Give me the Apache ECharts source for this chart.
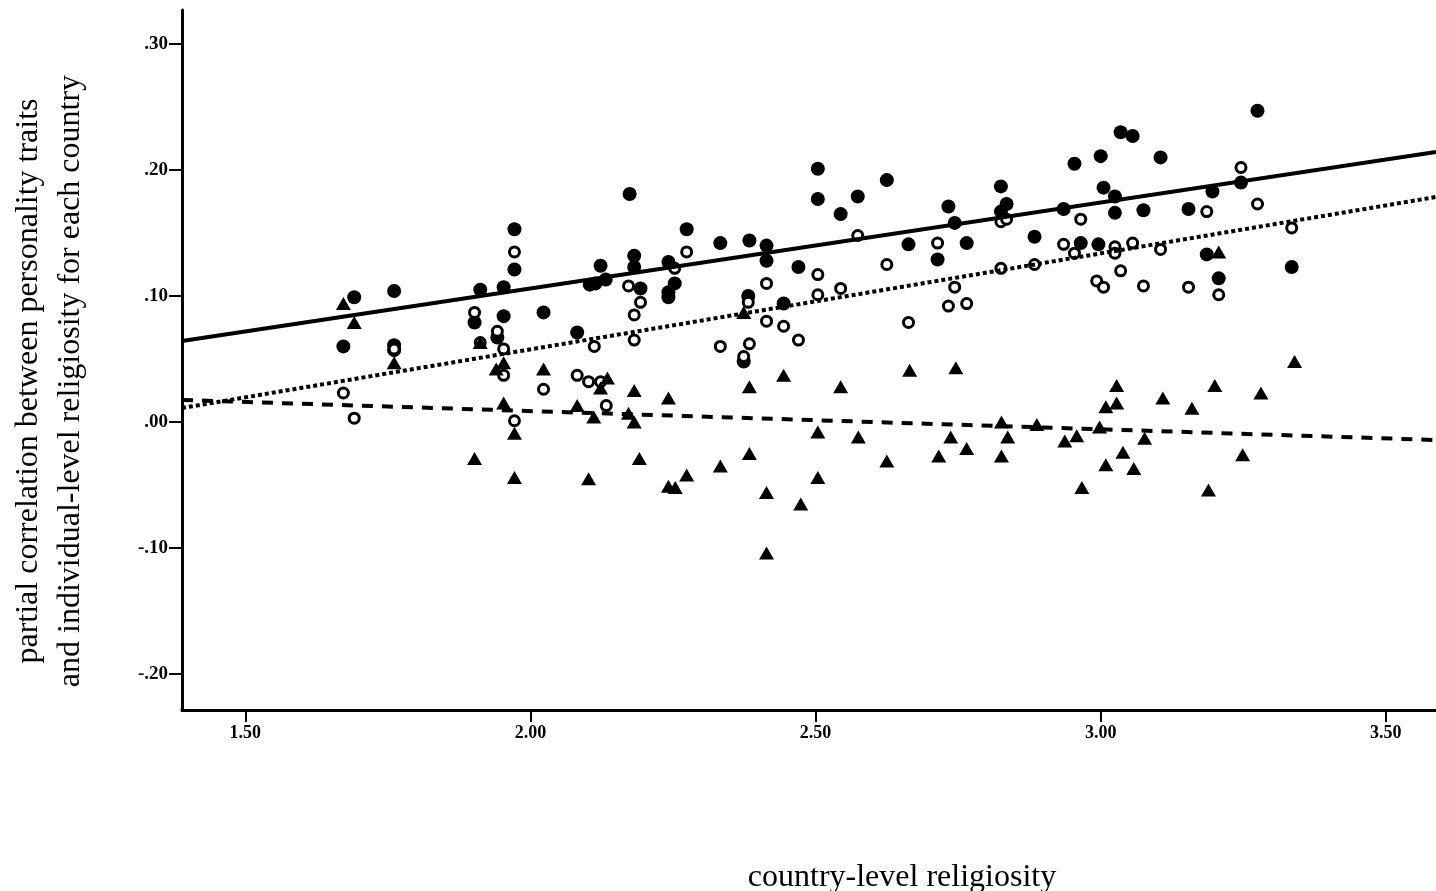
<!DOCTYPE html>
<html>
<head>
<meta charset="utf-8">
<script src="https://cdn.jsdelivr.net/npm/echarts@6/dist/echarts.min.js"></script>
<style>html,body{margin:0;padding:0;background:#fff}#c{width:1436px;height:891px}</style>
</head>
<body>
<div id="c"></div>
<script>
// axis ticks
const xTicks = [1.5, 2.0, 2.5, 3.0, 3.5];
const yTicks = [-0.2, -0.1, 0.0, 0.1, 0.2, 0.3];
const xRange = [1.389, 3.588];
const yRange = [-0.2286, 0.327];

// filled circles
const filledPoints = [
[1.672,0.060],[1.691,0.099],[1.761,0.104],[1.761,0.061],[1.761,0.057],[1.902,0.079],[1.912,0.105],
[1.953,0.107],[1.953,0.084],[1.942,0.067],[1.972,0.153],[1.972,0.121],[2.023,0.087],[2.082,0.071],
[2.104,0.109],[2.114,0.110],[2.132,0.113],[2.123,0.124],[2.174,0.181],[2.182,0.132],[2.182,0.123],
[2.193,0.106],[2.242,0.127],[2.253,0.110],[2.242,0.103],[2.242,0.099],[2.274,0.153],[2.333,0.142],
[2.384,0.144],[2.414,0.140],[2.414,0.128],[2.470,0.123],[2.382,0.100],[2.444,0.094],[2.504,0.201],
[2.504,0.177],[2.544,0.165],[2.574,0.179],[2.625,0.192],[2.663,0.141],[2.714,0.129],[2.733,0.171],
[2.744,0.158],[2.765,0.142],[2.825,0.187],[2.825,0.167],[2.835,0.173],[2.884,0.147],[2.935,0.169],
[2.954,0.205],[3.000,0.211],[3.005,0.186],[3.025,0.179],[3.025,0.166],[3.035,0.230],[3.056,0.227],
[3.075,0.168],[3.105,0.210],[3.154,0.169],[3.196,0.183],[3.246,0.190],[3.275,0.247],[2.965,0.142],
[2.996,0.141],[3.186,0.133],[3.207,0.114],[3.335,0.123],[2.374,0.048]
];

// open circles
const openPoints = [
[1.672,0.023],[1.691,0.003],[1.761,0.058],[1.902,0.087],[1.942,0.072],[1.912,0.063],[1.953,0.058],
[1.953,0.037],[1.972,0.135],[1.972,0.001],[2.023,0.026],[2.082,0.037],[2.102,0.032],[2.123,0.032],
[2.133,0.013],[2.112,0.060],[2.172,0.108],[2.193,0.095],[2.182,0.085],[2.182,0.065],[2.253,0.122],
[2.274,0.135],[2.333,0.060],[2.384,0.062],[2.374,0.052],[2.382,0.095],[2.414,0.110],[2.414,0.080],
[2.444,0.076],[2.470,0.065],[2.504,0.117],[2.504,0.101],[2.544,0.106],[2.574,0.148],[2.625,0.125],
[2.663,0.079],[2.714,0.142],[2.733,0.092],[2.744,0.107],[2.765,0.094],[2.825,0.159],[2.835,0.161],
[2.825,0.122],[2.884,0.125],[2.935,0.141],[2.954,0.134],[2.965,0.161],[2.993,0.112],[3.005,0.107],
[3.025,0.139],[3.025,0.134],[3.035,0.120],[3.056,0.142],[3.075,0.108],[3.105,0.137],[3.154,0.107],
[3.186,0.167],[3.207,0.101],[3.246,0.202],[3.275,0.173],[3.335,0.154]
];

// triangles
const trianglePoints = [
[1.672,0.094],[1.691,0.079],[1.761,0.047],[1.902,-0.029],[1.912,0.063],[1.953,0.047],[1.940,0.042],
[1.953,0.015],[1.972,-0.009],[1.972,-0.044],[2.023,0.042],[2.082,0.013],[2.102,-0.045],[2.111,0.004],
[2.123,0.027],[2.135,0.035],[2.172,0.007],[2.182,0.025],[2.182,0.000],[2.191,-0.029],[2.242,0.019],
[2.242,-0.051],[2.254,-0.052],[2.274,-0.042],[2.333,-0.035],[2.374,0.087],[2.384,0.028],[2.384,-0.025],
[2.414,-0.056],[2.414,-0.104],[2.444,0.037],[2.474,-0.065],[2.504,-0.044],[2.504,-0.008],[2.544,0.028],
[2.575,-0.012],[2.625,-0.031],[2.665,0.041],[2.716,-0.027],[2.737,-0.012],[2.746,0.043],[2.765,-0.021],
[2.826,0.000],[2.837,-0.012],[2.826,-0.027],[2.888,-0.002],[2.937,-0.015],[2.958,-0.011],[2.967,-0.052],
[2.998,-0.004],[3.009,0.012],[3.009,-0.034],[3.028,0.029],[3.028,0.015],[3.039,-0.024],[3.058,-0.037],
[3.077,-0.013],[3.109,0.019],[3.160,0.011],[3.189,-0.054],[3.200,0.029],[3.207,0.135],[3.249,-0.026],
[3.281,0.023],[3.340,0.048]
];

// fit line end points
const solidFit = [[1.389,0.0643],[3.588,0.2143]];
const dottedFit = [[1.389,0.0111],[3.588,0.1786]];
const dashedFit = [[1.389,0.0175],[3.588,-0.0143]];

const serif = '"Liberation Serif", "Times New Roman", serif';
const chart = echarts.init(document.getElementById('c'), null, {renderer: 'canvas'});
chart.setOption({
  animation: false,
  backgroundColor: '#fff',
  grid: {left: 182, right: 0, top: 10, bottom: 181, containLabel: false},
  xAxis: {
    type: 'value', min: xRange[0], max: xRange[1],
    axisLine: {show: true, onZero: false, lineStyle: {color: '#000', width: 3}},
    axisTick: {show: true, customValues: xTicks, length: 12, lineStyle: {color: '#000', width: 2}},
    axisLabel: {customValues: xTicks, margin: 14, color: '#000', fontFamily: serif, fontSize: 18, fontWeight: 'bold',
      formatter: v => v.toFixed(2)},
    splitLine: {show: false}
  },
  yAxis: {
    type: 'value', min: yRange[0], max: yRange[1],
    axisLine: {show: true, onZero: false, lineStyle: {color: '#000', width: 3}},
    axisTick: {show: true, customValues: yTicks, length: 13, lineStyle: {color: '#000', width: 2}},
    axisLabel: {customValues: yTicks, margin: 14, color: '#000', fontFamily: serif, fontSize: 19, fontWeight: 'bold',
      formatter: v => { let s = Math.abs(v).toFixed(2).replace(/^0/, ''); return (v < -1e-9 ? '-' : '') + s; }},
    splitLine: {show: false}
  },
  series: [
    {type: 'scatter', data: filledPoints, symbol: 'circle', symbolSize: 14,
      itemStyle: {color: '#000', opacity: 1}, z: 2},
    {type: 'scatter', data: openPoints, symbol: 'circle', symbolSize: 10,
      itemStyle: {color: '#fff', borderColor: '#000', borderWidth: 3, opacity: 1}, z: 3},
    {type: 'scatter', data: trianglePoints, symbol: 'triangle', symbolSize: [15, 13],
      itemStyle: {color: '#000', opacity: 1}, z: 4},
    {type: 'line', data: solidFit, symbol: 'none', lineStyle: {color: '#000', width: 4}, z: 5},
    {type: 'line', data: dottedFit, symbol: 'none', lineStyle: {color: '#000', width: 4, type: [4, 3], cap: 'butt'}, z: 5},
    {type: 'line', data: dashedFit, symbol: 'none', lineStyle: {color: '#000', width: 4, type: [11, 9], cap: 'butt'}, z: 5}
  ],
  graphic: [
    {type: 'text', x: 50, y: 381, rotation: Math.PI / 2,
      style: {text: 'partial correlation between personality traits\nand individual-level religiosity for each country',
        font: '32px ' + serif, fill: '#000', align: 'center', verticalAlign: 'middle', lineHeight: 42}},
    {type: 'text', x: 902, y: 878,
      style: {text: 'country-level religiosity', font: '32px ' + serif, fill: '#000', align: 'center', verticalAlign: 'middle'}}
  ]
});
</script>
</body>
</html>
